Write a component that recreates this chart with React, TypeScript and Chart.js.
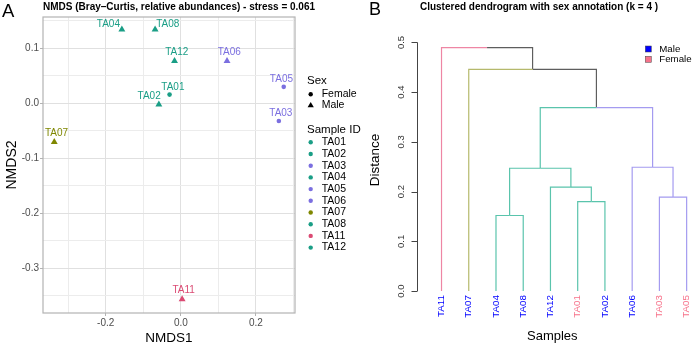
import React, { useEffect, useRef } from "react";
import { Chart, registerables } from "chart.js";

Chart.register(...registerables);

const W = 694;
const H = 345;
const FONT = '"Liberation Sans", Arial, Helvetica, sans-serif';

// ---- NMDS ordination (panel A) ----
const sampleIds = ["TA01", "TA02", "TA03", "TA04", "TA05", "TA06", "TA07", "TA08", "TA11", "TA12"];
const nmds1 = [-0.03, -0.0585, 0.261, -0.157, 0.274, 0.123, -0.337, -0.0685, 0.0035, -0.0168];
const nmds2 = [0.016, -0.002, -0.032, 0.1345, 0.03, 0.077, -0.07, 0.1345, -0.356, 0.077];
const sampleSex = ["Female", "Male", "Female", "Male", "Female", "Male", "Male", "Male", "Male", "Male"];
const sampleCluster = [3, 3, 4, 3, 4, 4, 2, 3, 1, 3];
const stress = 0.061;
const sexLevels = ["Female", "Male"];

// repelled text label offsets (px) from each point
const labelNudge: Record<string, [number, number]> = {
  TA01: [3.3, -7.6],
  TA02: [-9.7, -8.3],
  TA03: [2, -7.7],
  TA04: [-13.5, -5.3],
  TA05: [-2.3, -8],
  TA06: [2.2, -8.7],
  TA07: [2.2, -8.4],
  TA08: [12.7, -5.3],
  TA11: [1.5, -8.6],
  TA12: [2.3, -8.7],
};

// ---- hierarchical clustering (panel B) ----
const leafOrder = ["TA11", "TA07", "TA04", "TA08", "TA12", "TA01", "TA02", "TA06", "TA03", "TA05"];
// negative = leaf position in leafOrder (1-based), positive = earlier merge step
const mergeLeft = [-3, -6, -9, -5, 1, -8, 5, -2, -1];
const mergeRight = [-4, -7, -10, 2, 4, 3, 6, 7, 8];
const mergeHeight = [0.152, 0.18, 0.189, 0.209, 0.247, 0.249, 0.369, 0.446, 0.4895];
const distanceTicks = [0, 0.1, 0.2, 0.3, 0.4, 0.5];

const clusterPointColors = ["#DB4A73", "#7F8700", "#1A9E86", "#7B6FE0"];
const clusterBranchColors = ["#EE86A4", "#B5B96C", "#5AC4AC", "#A49BF0"];
const mixedBranchColor = "#5E5E5E";
const sexColors: Record<string, string> = { Male: "#0000FF", Female: "#F7728A" };

const isMult = (v: number, step: number) => Math.abs(v / step - Math.round(v / step)) < 1e-6;

function drawTriangle(ctx: CanvasRenderingContext2D, x: number, y: number, r: number) {
  ctx.beginPath();
  ctx.moveTo(x, y - r);
  ctx.lineTo(x + r * 0.866, y + r * 0.5);
  ctx.lineTo(x - r * 0.866, y + r * 0.5);
  ctx.closePath();
  ctx.fill();
}

function buildNmds(canvas: HTMLCanvasElement) {
  const colors = sampleCluster.map((c) => clusterPointColors[c - 1]);

  const overlay = {
    id: "nmdsOverlay",
    afterDraw(chart: any) {
      const { ctx, chartArea: a, scales } = chart;
      ctx.save();
      // panel border
      ctx.strokeStyle = "#B3B3B3";
      ctx.lineWidth = 1.2;
      ctx.strokeRect(a.left, a.top, a.right - a.left, a.bottom - a.top);

      // point labels
      ctx.font = `10px ${FONT}`;
      ctx.textAlign = "center";
      ctx.textBaseline = "middle";
      sampleIds.forEach((id, i) => {
        const px = scales.x.getPixelForValue(nmds1[i]);
        const py = scales.y.getPixelForValue(nmds2[i]);
        const [dx, dy] = labelNudge[id];
        ctx.fillStyle = colors[i];
        ctx.fillText(id, px + dx, py + dy);
      });

      // panel letter and title
      ctx.fillStyle = "#000";
      ctx.textAlign = "left";
      ctx.font = `18.5px ${FONT}`;
      ctx.fillText("A", 2, 12);
      ctx.font = `bold 10px ${FONT}`;
      ctx.fillText(`NMDS (Bray\u2013Curtis, relative abundances) - stress = ${stress.toFixed(3)}`, a.left, 7.5);

      // axis titles
      ctx.font = `13.5px ${FONT}`;
      ctx.textAlign = "center";
      ctx.fillText("NMDS1", (a.left + a.right) / 2, 338);
      ctx.save();
      ctx.font = `14px ${FONT}`;
      ctx.translate(11.7, (a.top + a.bottom) / 2);
      ctx.rotate(-Math.PI / 2);
      ctx.fillText("NMDS2", 0, 0);
      ctx.restore();

      // legends
      const lx = 310.7;
      const tx = 321.7;
      ctx.textAlign = "left";
      ctx.font = `11.5px ${FONT}`;
      ctx.fillText("Sex", 307, 81);
      ctx.font = `10.5px ${FONT}`;
      sexLevels.forEach((s, k) => {
        const y = 94.3 + k * 10.7;
        ctx.fillStyle = "#000";
        if (s === "Female") {
          ctx.beginPath();
          ctx.arc(lx, y, 2.2, 0, Math.PI * 2);
          ctx.fill();
        } else {
          drawTriangle(ctx, lx, y + 0.5, 3.6);
        }
        ctx.fillText(s, tx, y);
      });
      ctx.font = `11.5px ${FONT}`;
      ctx.fillText("Sample ID", 307, 130);
      ctx.font = `10.5px ${FONT}`;
      sampleIds.forEach((id, i) => {
        const y = 142.3 + i * 11.7;
        ctx.fillStyle = colors[i];
        ctx.beginPath();
        ctx.arc(lx, y, 2.2, 0, Math.PI * 2);
        ctx.fill();
        ctx.fillStyle = "#000";
        ctx.fillText(id, tx, y);
      });
      ctx.restore();
    },
  };

  return new Chart(canvas, {
    type: "scatter",
    data: {
      datasets: [
        {
          data: sampleIds.map((_, i) => ({ x: nmds1[i], y: nmds2[i] })),
          pointStyle: sampleSex.map((s) => (s === "Female" ? "circle" : "triangle")) as any,
          pointRadius: sampleSex.map((s) => (s === "Female" ? 2.3 : 4)),
          backgroundColor: colors,
          borderColor: colors,
          borderWidth: 0,
        },
      ],
    },
    options: {
      responsive: false,
      animation: false,
      devicePixelRatio: 1,
      layout: { padding: { left: 0, top: 17, right: W - 295, bottom: 0 } },
      plugins: { legend: { display: false }, tooltip: { enabled: false } },
      scales: {
        x: {
          type: "linear",
          min: -0.367,
          max: 0.304,
          afterFit: (s: any) => {
            s.height = 32;
          },
          border: { display: false },
          grid: {
            color: (c: any) => (isMult(c.tick.value, 0.2) ? "#E0E0E0" : "#ECECEC"),
            lineWidth: 1,
            tickLength: 3,
            tickColor: (c: any) => (isMult(c.tick.value, 0.2) ? "#B3B3B3" : "rgba(0,0,0,0)"),
          },
          ticks: {
            stepSize: 0.1,
            includeBounds: false,
            padding: 1,
            color: "#4D4D4D",
            font: { family: FONT, size: 10 },
            maxRotation: 0,
            autoSkip: false,
            callback: (v: any) => (isMult(Number(v), 0.2) ? Number(v).toFixed(1) : ""),
          },
        },
        y: {
          type: "linear",
          min: -0.381,
          max: 0.157,
          afterFit: (s: any) => {
            s.width = 43;
          },
          border: { display: false },
          grid: {
            color: (c: any) => (isMult(c.tick.value, 0.1) ? "#E0E0E0" : "#ECECEC"),
            lineWidth: 1,
            tickLength: 3,
            tickColor: (c: any) => (isMult(c.tick.value, 0.1) ? "#B3B3B3" : "rgba(0,0,0,0)"),
          },
          ticks: {
            stepSize: 0.05,
            includeBounds: false,
            padding: 1,
            color: "#4D4D4D",
            font: { family: FONT, size: 10 },
            autoSkip: false,
            callback: (v: any) => (isMult(Number(v), 0.1) ? Number(v).toFixed(1) : ""),
          },
        },
      },
    },
    plugins: [overlay],
  });
}

function buildDendrogram(canvas: HTMLCanvasElement) {
  const leafCluster = leafOrder.map((id) => sampleCluster[sampleIds.indexOf(id)]);
  const leafSex = leafOrder.map((id) => sampleSex[sampleIds.indexOf(id)]);

  type Node = { x: number; h: number; clusters: Set<number> };
  const merged: Node[] = [];
  const nodeOf = (ref: number): Node => {
    if (ref < 0) {
      const i = -ref - 1;
      return { x: i + 1, h: 0, clusters: new Set([leafCluster[i]]) };
    }
    return merged[ref - 1];
  };
  const colorOf = (n: Node) =>
    n.clusters.size === 1 ? clusterBranchColors[[...n.clusters][0] - 1] : mixedBranchColor;

  const segments: { pts: { x: number; y: number }[]; color: string }[] = [];
  mergeHeight.forEach((h, k) => {
    const l = nodeOf(mergeLeft[k]);
    const r = nodeOf(mergeRight[k]);
    const node: Node = { x: (l.x + r.x) / 2, h, clusters: new Set([...l.clusters, ...r.clusters]) };
    merged.push(node);
    [l, r].forEach((child) => {
      segments.push({
        pts: [
          { x: node.x, y: h },
          { x: child.x, y: h },
          { x: child.x, y: child.h },
        ],
        color: colorOf(child),
      });
    });
  });

  const overlay = {
    id: "dendroOverlay",
    afterDraw(chart: any) {
      const { ctx, chartArea: a, scales } = chart;
      const yS = scales.y;
      const xS = scales.x;
      ctx.save();
      // distance axis
      const ax = a.left;
      ctx.strokeStyle = "#444";
      ctx.lineWidth = 1;
      ctx.beginPath();
      ctx.moveTo(ax + 0.5, yS.getPixelForValue(distanceTicks[0]));
      ctx.lineTo(ax + 0.5, yS.getPixelForValue(distanceTicks[distanceTicks.length - 1]));
      distanceTicks.forEach((t) => {
        const y = Math.round(yS.getPixelForValue(t)) + 0.5;
        ctx.moveTo(ax + 0.5, y);
        ctx.lineTo(ax - 5.5, y);
      });
      ctx.stroke();
      ctx.fillStyle = "#333";
      ctx.font = `9.5px ${FONT}`;
      ctx.textAlign = "center";
      ctx.textBaseline = "middle";
      distanceTicks.forEach((t) => {
        ctx.save();
        ctx.translate(401.7, yS.getPixelForValue(t));
        ctx.rotate(-Math.PI / 2);
        ctx.fillText(t.toFixed(1), 0, 0);
        ctx.restore();
      });

      // leaf labels coloured by sex
      ctx.textAlign = "right";
      ctx.font = `9.8px ${FONT}`;
      leafOrder.forEach((id, i) => {
        ctx.save();
        ctx.translate(xS.getPixelForValue(i + 1), 295);
        ctx.rotate(-Math.PI / 2);
        ctx.fillStyle = sexColors[leafSex[i]];
        ctx.fillText(id, 0, 0);
        ctx.restore();
      });

      // legend
      ctx.textAlign = "left";
      ctx.font = `9.7px ${FONT}`;
      ["Male", "Female"].forEach((s, k) => {
        const y = 49 + k * 10.3;
        ctx.fillStyle = sexColors[s];
        ctx.fillRect(645.3, y - 3, 6, 6);
        ctx.strokeStyle = "#444";
        ctx.lineWidth = 0.5;
        ctx.strokeRect(645.3, y - 3, 6, 6);
        ctx.fillStyle = "#000";
        ctx.fillText(s, 659.3, y);
      });

      // titles
      ctx.fillStyle = "#000";
      ctx.font = `18px ${FONT}`;
      ctx.fillText("B", 369, 10);
      ctx.font = `bold 10px ${FONT}`;
      ctx.textAlign = "center";
      ctx.fillText("Clustered dendrogram with sex annotation (k = 4 )", 539, 7.5);
      ctx.font = `13px ${FONT}`;
      ctx.fillText("Samples", 552.3, 336);
      ctx.save();
      ctx.font = `13.5px ${FONT}`;
      ctx.translate(375, 160);
      ctx.rotate(-Math.PI / 2);
      ctx.fillText("Distance", 0, 0);
      ctx.restore();
      ctx.restore();
    },
  };

  return new Chart(canvas, {
    type: "scatter",
    data: {
      datasets: segments.map((s) => ({
        data: s.pts,
        showLine: true,
        borderColor: s.color,
        borderWidth: 1.2,
        pointRadius: 0,
        tension: 0,
        fill: false,
      })),
    },
    options: {
      responsive: false,
      animation: false,
      devicePixelRatio: 1,
      layout: { padding: { left: 417, top: 37.5, right: 0, bottom: 44 } },
      plugins: { legend: { display: false }, tooltip: { enabled: false } },
      scales: {
        x: { type: "linear", min: 0.1, max: 10.27, display: false },
        y: { type: "linear", min: -0.02, max: 0.51, display: false },
      },
    },
    plugins: [overlay],
  });
}

export default function App() {
  const refA = useRef<HTMLCanvasElement>(null);
  const refB = useRef<HTMLCanvasElement>(null);

  useEffect(() => {
    const a = buildNmds(refA.current!);
    const b = buildDendrogram(refB.current!);
    return () => {
      a.destroy();
      b.destroy();
    };
  }, []);

  const canvasStyle: React.CSSProperties = { position: "absolute", left: 0, top: 0, width: W, height: H };
  return (
    <div style={{ position: "fixed", left: 0, top: 0, width: W, height: H, background: "#fff" }}>
      <canvas ref={refA} width={W} height={H} style={canvasStyle} />
      <canvas ref={refB} width={W} height={H} style={canvasStyle} />
    </div>
  );
}
